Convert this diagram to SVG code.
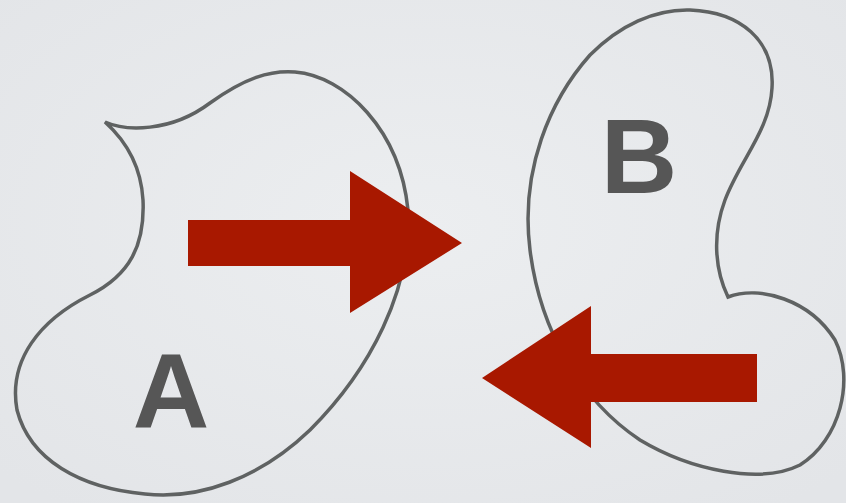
<svg xmlns="http://www.w3.org/2000/svg" width="846" height="503" viewBox="0 0 846 503">
<defs>
<radialGradient id="bg" cx="50%" cy="45%" r="70%">
<stop offset="0" stop-color="#eceef0"/>
<stop offset="1" stop-color="#e3e5e8"/>
</radialGradient>
<style>
.blob{fill:none;stroke:#5f6262;stroke-width:3.5;stroke-linejoin:miter}
.lbl{font-family:"Liberation Sans",Arial,sans-serif;font-weight:bold;font-size:106px;fill:#565656;text-anchor:middle}
.arrow{fill:#a81800}
</style>
</defs>
<rect width="846" height="503" fill="url(#bg)"/>
<g id="nodeA">
<path class="blob" d="M105,122 C125,131 170,133 210,103 C245,78 270,70 295,72 C345,76 400,130 408,210 C412,290 370,370 310,430 C260,478 200,500 145,494 C80,488 30,460 17,410 C8,360 40,320 90,295 C130,275 145,245 143,200 C141,165 125,140 105,122 Z"/>
<text class="lbl" x="171" y="428">A</text>
</g>
<g id="nodeB">
<path class="blob" d="M690,10 C740,12 775,40 772,88 C770,130 740,160 725,200 C712,235 715,270 728,297 C760,285 810,300 835,340 C855,380 840,440 800,465 C760,485 690,470 640,440 C580,400 540,330 530,250 C520,170 550,100 590,55 C620,25 655,9 690,10 Z"/>
<text class="lbl" x="639" y="193">B</text>
</g>
<g id="connectors">
<path class="arrow" d="M188,220 H350 V171 L462,243 L350,313 V266 H188 Z"/>
<path class="arrow" d="M757,354 H591 V306 L482,378 L591,448 V402 H757 Z"/>
</g>
</svg>
